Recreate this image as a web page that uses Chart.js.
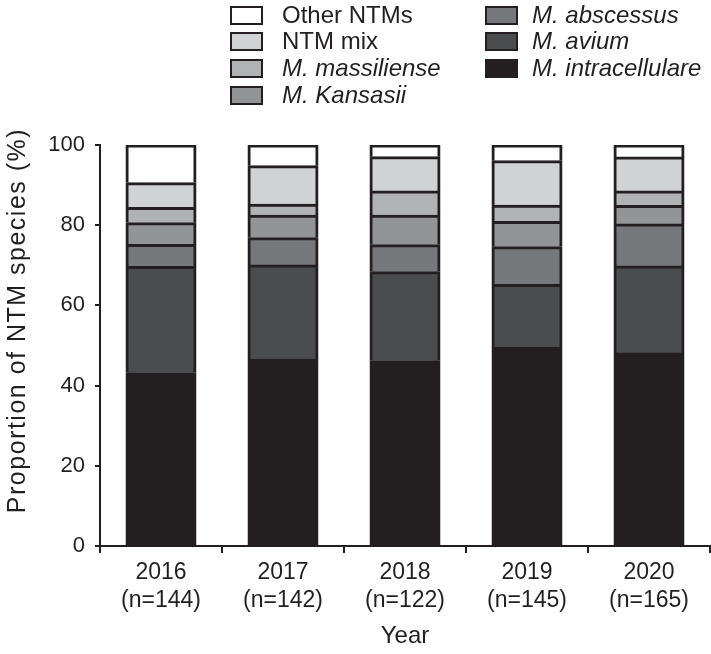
<!DOCTYPE html>
<html>
<head>
<meta charset="utf-8">
<script src="https://cdn.jsdelivr.net/npm/chart.js@4/dist/chart.umd.min.js"></script>
<style>
  html, body { margin: 0; padding: 0; background: #fff; }
  #wrap { position: relative; width: 711px; height: 654px; }
  #legend { position: absolute; left: 0; top: 0; width: 711px; height: 110px;
            font-family: "Liberation Sans", Arial, sans-serif; font-size: 24px; color: #231f20; }
  .item { position: absolute; height: 26px; display: flex; align-items: center; white-space: nowrap; }
  .box { width: 29px; height: 15px; border: 2px solid #231f20; flex: none; }
  .it { font-style: italic; }
</style>
</head>
<body>
<div id="wrap">
  <canvas id="c" width="711" height="654"></canvas>
  <div id="legend"></div>
</div>
<script>
// ---- data ----
const years = ["2016", "2017", "2018", "2019", "2020"];
const counts = ["(n=144)", "(n=142)", "(n=122)", "(n=145)", "(n=165)"];
const seriesNames = ["M. intracellulare", "M. avium", "M. abscessus", "M. Kansasii", "M. massiliense", "NTM mix", "Other NTMs"];
const intracellulare = [43.2, 46.6, 46.2, 49.5, 48.1];
const avium          = [26.5, 23.5, 22.2, 15.7, 21.7];
const abscessus      = [5.5, 6.8, 6.7, 9.4, 10.5];
const kansasii       = [5.4, 5.6, 7.4, 6.3, 4.6];
const massiliense    = [3.8, 2.7, 6.0, 4.1, 3.6];
const ntmMix         = [6.2, 9.6, 8.6, 11.1, 8.5];
const otherNTMs      = [9.4, 5.2, 2.9, 3.9, 3.0];
const yTicks = [0, 20, 40, 60, 80, 100];

// ---- style ----
const seriesValues = [intracellulare, avium, abscessus, kansasii, massiliense, ntmMix, otherNTMs];
const colors = ["#231f20", "#4b4c4e", "#77787b", "#939496", "#b1b2b4", "#d1d2d4", "#ffffff"];
const italic = [true, true, true, true, true, false, false];
const ink = "#231f20";
const family = "'Liberation Sans', Arial, sans-serif";

const datasets = seriesNames.map((name, i) => ({
  label: name,
  data: seriesValues[i],
  backgroundColor: colors[i],
  borderColor: ink,
  borderWidth: 3,
  borderSkipped: "start",
  inflateAmount: 0.5,
  barPercentage: 70 / 122,
  categoryPercentage: 1.0
}));

const spacedTitle = {
  id: "spacedTitle",
  afterLayout(chart) {
    const s = chart.scales.y;
    if (s._spaced) return;
    const orig = s.drawTitle.bind(s);
    s.drawTitle = function () {
      const ctx = this.ctx;
      ctx.save();
      ctx.letterSpacing = "1.5px";
      ctx.translate(0, -25);
      orig();
      ctx.restore();
    };
    s._spaced = true;
  }
};

new Chart(document.getElementById("c"), {
  type: "bar",
  data: { labels: years.map((y, i) => [y, counts[i]]), datasets },
  plugins: [spacedTitle],
  options: {
    responsive: false,
    animation: false,
    devicePixelRatio: 1,
    layout: { padding: { top: 145, right: 1, left: 0, bottom: 0 } },
    plugins: { legend: { display: false }, tooltip: { enabled: false } },
    scales: {
      x: {
        stacked: true,
        afterFit: s => { s.height = 108; },
        grid: { offset: true, drawOnChartArea: false, drawTicks: true, tickLength: 7, color: ink, lineWidth: 2 },
        border: { display: true, color: ink, width: 2 },
        ticks: { font: { family, size: 23, lineHeight: 1.25 }, color: ink, padding: 5, maxRotation: 0 },
        title: { display: true, text: "Year", font: { family, size: 24, lineHeight: 1.2 }, color: ink, padding: { top: 4, bottom: 3 } }
      },
      y: {
        stacked: true,
        min: 0, max: 100,
        afterFit: s => { s.width = 100; },
        afterBuildTicks: s => { s.ticks = yTicks.map(v => ({ value: v })); },
        grid: { drawOnChartArea: false, drawTicks: true, tickLength: 5, color: ink, lineWidth: 2 },
        border: { display: true, color: ink, width: 2 },
        ticks: { font: { family, size: 22 }, color: ink, padding: 10 },
        title: { display: true, text: "Proportion of NTM species (%)", font: { family, size: 25, lineHeight: 1.2 }, color: ink, padding: { top: 3, bottom: 4 } }
      }
    }
  }
});

// ---- HTML legend (two columns, top to bottom) ----
const legendOrder = [6, 5, 4, 3, 2, 1, 0];
const colX = [230, 485];
const gap = [19, 14];
const rowY = [2, 28, 55, 82];
const leg = document.getElementById("legend");
legendOrder.forEach((idx, k) => {
  const col = k < 4 ? 0 : 1;
  const row = k < 4 ? k : k - 4;
  const d = document.createElement("div");
  d.className = "item";
  d.style.left = colX[col] + "px";
  d.style.top = rowY[row] + "px";
  const b = document.createElement("span");
  b.className = "box";
  b.style.background = colors[idx];
  b.style.marginRight = gap[col] + "px";
  const t = document.createElement("span");
  t.textContent = seriesNames[idx];
  if (italic[idx]) t.className = "it";
  d.appendChild(b); d.appendChild(t);
  leg.appendChild(d);
});
</script>
</body>
</html>
